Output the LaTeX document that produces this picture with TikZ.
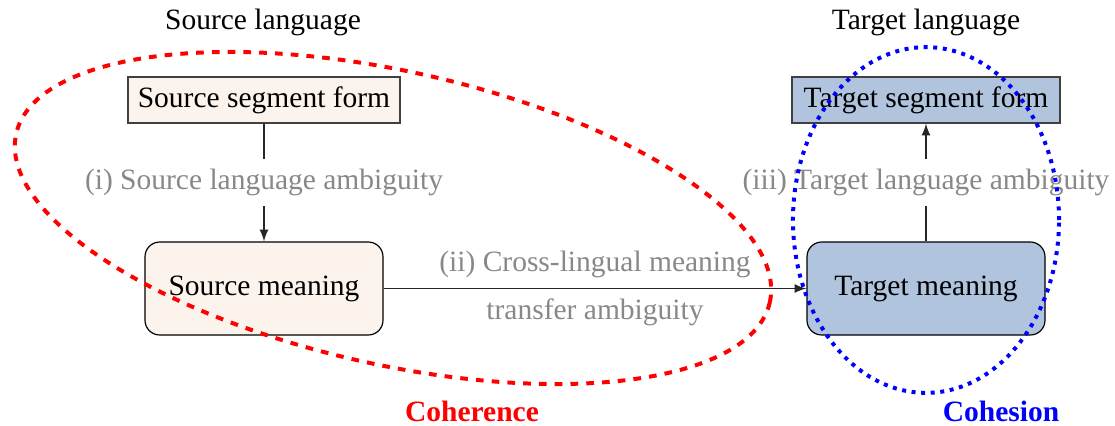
\documentclass[tikz,border=0pt]{standalone}
\usepackage{fontspec}
\setmainfont{Liberation Serif}
\usetikzlibrary{arrows}
\definecolor{srcfill}{HTML}{FCF3ED}
\definecolor{tgtfill}{HTML}{B0C4DE}
\definecolor{lblgray}{HTML}{888888}
\tikzset{
  formbox/.style={draw=black!75, rectangle, minimum width=272*0.339pt, minimum height=46*0.339pt, inner sep=0pt},
  meanbox/.style={draw=black, rectangle, rounded corners=5pt, minimum width=238*0.339pt, minimum height=93*0.339pt, inner sep=0pt},
  amb/.style={text=lblgray, fill=white},
  title/.style={text=black},
  conn/.style={draw=black!85, -latex},
}
\begin{document}
\begin{tikzpicture}[x=0.339pt,y=-0.339pt, font=\fontsize{10}{12}\selectfont]
\useasboundingbox (0,0) rectangle (1115,425);
% titles
\node[title] (srclang) at (263,22) {Source language};
\node[title] (tgtlang) at (926,22) {Target language};
% boxes
\node[formbox, fill=srcfill] (srcform) at (264,100) {Source segment form};
\node[formbox, fill=tgtfill, minimum width=268*0.339pt] (tgtform) at (926,100) {Target segment form};
\node[meanbox, fill=srcfill] (srcmean) at (264,288.5) {Source meaning};
\node[meanbox, fill=tgtfill] (tgtmean) at (926,288.5) {Target meaning};
% connectors
\draw[conn] (srcform) -- node[amb] {(i) Source language ambiguity} (srcmean);
\draw[conn] (srcmean) -- node[text=lblgray, above] {(ii) Cross-lingual meaning} node[text=lblgray, below] {transfer ambiguity} (tgtmean);
\draw[conn] (tgtmean) -- node[amb] {(iii) Target language ambiguity} (tgtform);
% groupings
\draw[red, line width=1.35pt, dash pattern=on 2.6pt off 2.75pt, rotate around={-12.6:(393,218)}] (393,218) ellipse [x radius=130.9pt, y radius=49.7pt];
\draw[blue, line width=1.35pt, dash pattern=on 1.35pt off 1.9pt] (926,220) ellipse [x radius=45.1pt, y radius=58.6pt];
\node[text=red, font=\fontsize{10}{12}\selectfont\bfseries] (coh) at (472,411) {Coherence};
\node[text=blue, font=\fontsize{10}{12}\selectfont\bfseries] (cohes) at (1001,411) {Cohesion};
\end{tikzpicture}
\end{document}
